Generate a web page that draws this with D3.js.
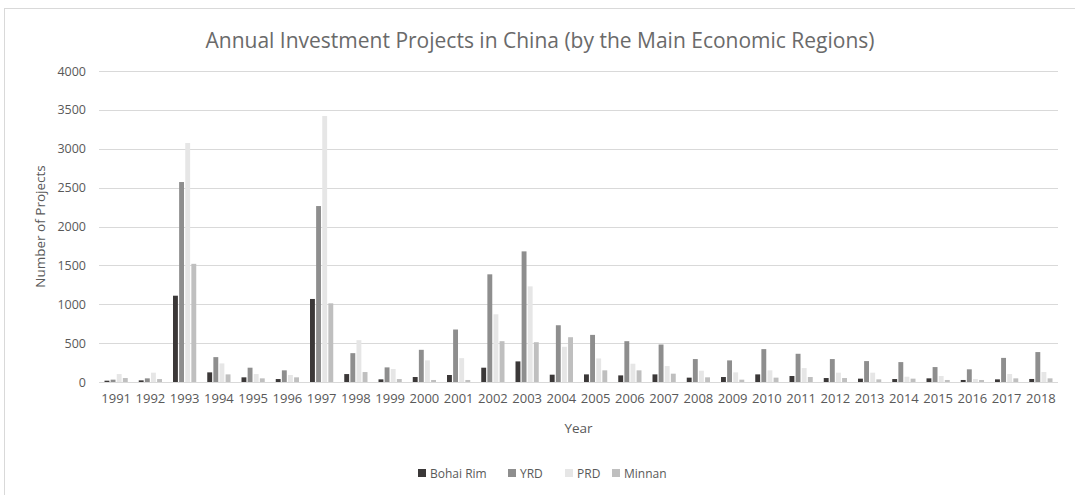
<!DOCTYPE html>
<html>
<head>
<meta charset="utf-8">
<script src="https://cdn.jsdelivr.net/npm/d3@7"></script>
<style>
  html, body { margin: 0; padding: 0; background: #fff; }
  svg { display: block; }
  text { font-family: "Open Sans", "Noto Sans", sans-serif; fill: #595959; }
</style>
</head>
<body>
<svg id="chart" width="1075" height="495"></svg>
<script>
const years = ["1991","1992","1993","1994","1995","1996","1997","1998","1999","2000",
  "2001","2002","2003","2004","2005","2006","2007","2008","2009","2010",
  "2011","2012","2013","2014","2015","2016","2017","2018"];
const seriesNames = ["Bohai Rim", "YRD", "PRD", "Minnan"];
const bohaiRim = [17,21,1110,124,60,38,1068,102,34,64,90,184,265,94,98,85,98,56,64,98,77,51,43,38,47,26,34,39];
const yrd      = [30,47,2572,320,184,150,2263,371,188,414,675,1385,1680,730,606,525,482,295,278,423,363,295,269,256,192,163,310,385];
const prd      = [102,120,3074,239,102,90,3421,538,167,278,307,871,1230,453,303,235,205,145,124,150,179,120,120,68,77,39,103,129];
const minnan   = [51,38,1520,98,47,60,1012,128,38,26,26,525,512,576,150,150,107,60,30,56,64,51,34,43,26,26,47,47];
const yTicks = [0,500,1000,1500,2000,2500,3000,3500,4000];
const colors = ["#3b3838", "#8e8e8e", "#e6e6e6", "#bfbfbf"];

const seriesValues = [bohaiRim, yrd, prd, minnan];

const svg = d3.select("#chart");
const W = 1075, H = 495;
const plot = { left: 99, right: 1058, top: 71, bottom: 382 };

// outer border
svg.append("rect")
  .attr("x", 4.5).attr("y", 8.5)
  .attr("width", W - 4).attr("height", H)
  .attr("fill", "#fff").attr("stroke", "#d9d9d9");

const x0 = d3.scaleBand().domain(years)
  .range([plot.left, plot.right]).paddingInner(0.25).paddingOuter(0.125);
const x1 = d3.scaleBand().domain(seriesNames)
  .range([0, x0.bandwidth()]).padding(0.2);
const y = d3.scaleLinear().domain([0, 4000]).range([plot.bottom, plot.top]);

// gridlines
svg.append("g").selectAll("line").data(yTicks).join("line")
  .attr("x1", plot.left).attr("x2", plot.right)
  .attr("y1", d => Math.round(y(d)) + 0.5).attr("y2", d => Math.round(y(d)) + 0.5)
  .attr("stroke", "#d9d9d9").attr("stroke-width", 1);

// bars
const rows = years.map((yr, i) => ({ yr, vals: seriesNames.map((s, j) => ({ s, j, v: seriesValues[j][i] })) }));
svg.append("g").selectAll("g").data(rows).join("g")
  .attr("transform", d => `translate(${x0(d.yr)},0)`)
  .selectAll("rect").data(d => d.vals).join("rect")
  .attr("x", d => x1(d.s))
  .attr("width", x1.bandwidth())
  .attr("y", d => y(d.v))
  .attr("height", d => y(0) - y(d.v))
  .attr("fill", d => colors[d.j]);

// y axis
const yAxis = d3.axisLeft(y).tickValues(yTicks).tickFormat(d3.format("d")).tickSize(0).tickPadding(13);
const gy = svg.append("g").attr("transform", `translate(${plot.left},0)`).call(yAxis);
gy.select(".domain").remove();
gy.selectAll("text").style("font-size", "12.5px").style("fill", "#595959")
  .style("font-family", '"Open Sans", sans-serif');

// x axis
const xAxis = d3.axisBottom(x0).tickSize(0).tickPadding(12);
const gx = svg.append("g").attr("transform", `translate(0,${plot.bottom})`).call(xAxis);
gx.select(".domain").remove();
gx.selectAll("text").style("font-size", "13px").style("fill", "#595959")
  .style("font-family", '"Open Sans", sans-serif');

// title
svg.append("text")
  .attr("x", 540).attr("y", 48)
  .attr("text-anchor", "middle")
  .style("font-size", "21px")
  .style("fill", "#6a6a6a")
  .text("Annual Investment Projects in China (by the Main Economic Regions)");

// axis titles
svg.append("text")
  .attr("x", (plot.left + plot.right) / 2).attr("y", 433)
  .attr("text-anchor", "middle")
  .style("font-size", "13.5px")
  .text("Year");
svg.append("text")
  .attr("transform", `translate(45,${(plot.top + plot.bottom) / 2}) rotate(-90)`)
  .attr("text-anchor", "middle")
  .style("font-size", "13.5px")
  .text("Number of Projects");

// legend
const legendItems = seriesNames.map((s, j) => ({ s, j }));
const lg = svg.append("g");
const legendX = [418, 508, 565, 612];
legendItems.forEach((d, k) => {
  lg.append("rect").attr("x", legendX[k]).attr("y", 469).attr("width", 8).attr("height", 8)
    .attr("fill", colors[d.j]);
  lg.append("text").attr("x", legendX[k] + 12).attr("y", 477.5)
    .style("font-size", "12px").text(d.s);
});
</script>
</body>
</html>
